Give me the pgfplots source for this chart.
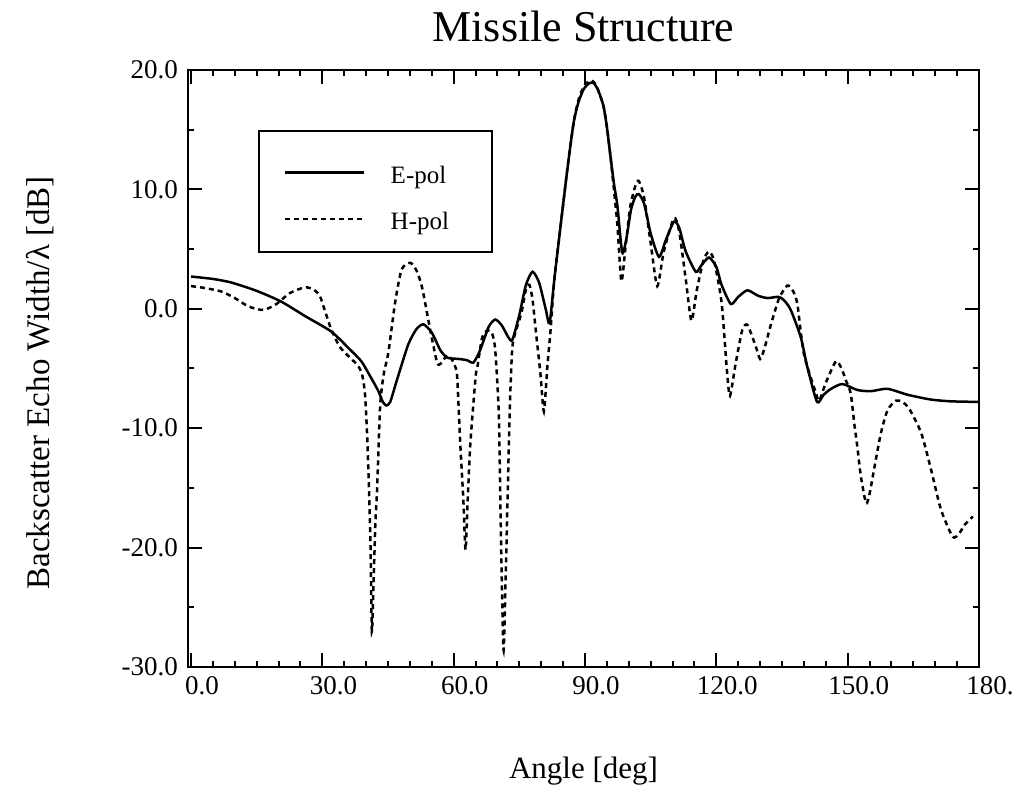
\documentclass[border=0pt]{standalone}
\usepackage{pgfplots}
\pgfplotsset{compat=1.18}
\usepackage{fontspec}
\setmainfont{Liberation Serif}
\begin{document}
\begin{tikzpicture}
\useasboundingbox (-188pt,-124pt) rectangle (836pt,667pt);
\begin{axis}[
  at={(0pt,0pt)}, anchor=south west,
  scale only axis, width=791pt, height=597pt,
  xmin=-0.7, xmax=180, ymin=-30, ymax=20,
  axis line style={line width=2.5pt},
  tick align=inside, tick pos=both,
  xtick={0,30,60,90,120,150,180},
  xticklabels={0.0,30.0,60.0,90.0,120.0,150.0,180.},
  ytick={-30,-20,-10,0,10,20},
  yticklabels={-30.0,-20.0,-10.0,0.0,10.0,20.0},
  minor x tick num=5, minor y tick num=1,
  major tick length=14pt, minor tick length=6pt,
  every tick/.style={black, line width=2pt},
  xticklabel style={font=\fontsize{27}{30}\selectfont, anchor=north, inner sep=0pt, yshift=-9pt, xshift=11pt},
  yticklabel style={font=\fontsize{27}{30}\selectfont, anchor=east, inner sep=0pt, xshift=-10pt},
  title={Missile Structure},
  title style={font=\fontsize{44}{48}\selectfont, at={(axis description cs:0.5,1)}, anchor=base, yshift=22pt},
  xlabel={Angle [deg]},
  xlabel style={font=\fontsize{31}{34}\selectfont, at={(axis description cs:0.5,0)}, anchor=base, yshift=-111pt},
  ylabel={Backscatter Echo Width/λ [dB]},
  ylabel style={font=\fontsize{33}{36}\selectfont, at={(axis description cs:-0.1745,0.476)}, anchor=base},
  legend cell align=left,
  legend image code/.code={\draw[#1] (0pt,2.5pt) -- (79pt,2.5pt);},
  legend style={at={(axis description cs:0.1214,0.840)}, anchor=north west,
    draw=none, fill=none, inner xsep=0pt, inner ysep=0pt,
    row sep=27.5pt, column sep=25pt,
    nodes={inner sep=0pt},
    font=\fontsize{25}{27}\selectfont},
]
\addplot[black, line width=2.5pt, smooth, tension=0.4] coordinates {
(0,2.7)(5,2.5)(9.2,2.2)(15,1.5)(20.6,0.6)(26,-0.6)(32,-1.9)(36,-3.3)(38.9,-4.4)(41,-5.7)(42.8,-6.9)(43.8,-7.8)(44.6,-8.1)(45.5,-7.8)(47,-6.0)(49.6,-3.0)(51.5,-1.7)(53.1,-1.3)(55,-2.0)(57,-3.5)(58.6,-4.1)(61.1,-4.2)(63,-4.3)(64.5,-4.5)(66,-3.5)(68,-1.5)(69.5,-0.9)(71,-1.4)(72.5,-2.4)(73.4,-2.6)(75,-0.5)(76.5,2.0)(78,3.1)(79.5,2.2)(81,0)(81.9,-1.2)(83,2.5)(84.4,6.9)(86,11.8)(87.4,15.6)(88.5,17.3)(89.7,18.4)(91,18.9)(92,18.9)(93,18.3)(94.2,17.0)(95,15.2)(95.8,12.8)(96.6,10.5)(97.4,8.6)(98.5,4.7)(99.5,6.0)(100.5,8.3)(101.5,9.4)(102.3,9.6)(103.5,8.8)(105,6.3)(106.9,4.35)(108.5,5.8)(110.3,7.3)(111.5,6.8)(113,4.8)(115.3,3.1)(116.5,3.6)(118.3,4.3)(120,3.5)(121.2,2.0)(123.3,0.4)(125,1.0)(127.1,1.55)(129.5,1.1)(131.7,0.9)(134.2,1.0)(135.5,0.7)(137,-0.1)(139.3,-2.4)(140.8,-4.9)(143,-7.8)(144.5,-7.2)(146.2,-6.7)(148.8,-6.3)(152.2,-6.8)(155.3,-6.9)(159.1,-6.7)(163.7,-7.2)(169,-7.6)(173.6,-7.75)(180,-7.8)
};
\addlegendentry{E-pol}
\addplot[black, line width=2.5pt, dash pattern=on 5pt off 4pt, smooth, tension=0.4] coordinates {
(0,1.9)(3,1.75)(6.9,1.45)(10,0.9)(13.1,0.2)(16.5,-0.1)(19.5,0.4)(22.5,1.3)(26,1.8)(28,1.6)(29.4,1.1)(30.7,-0.3)(32,-1.7)(34,-3.2)(36.6,-4.2)(38,-4.7)(39,-5.4)(39.7,-7.0)(40.2,-10.4)(40.6,-14.6)(41.0,-20)(41.3,-27.0)(41.7,-22.9)(42.1,-18)(42.5,-15.1)(43.2,-8.1)(44,-5.5)(45.1,-3.6)(46.6,0.5)(48.1,3.3)(50.1,3.85)(51.5,3.2)(52.8,1.75)(54.7,-1.9)(56.2,-4.5)(57,-4.6)(58.5,-3.9)(59.5,-4.2)(60.4,-4.9)(60.8,-5.75)(61.5,-11.3)(62.2,-16)(62.7,-20.2)(63.2,-16)(63.8,-11.3)(65.0,-5.7)(65.4,-4.9)(66.5,-2.4)(67.7,-1.8)(68.8,-2.1)(69.5,-3.5)(70.3,-8.8)(70.7,-17.2)(71.0,-23)(71.4,-28.6)(71.9,-22)(72.3,-16)(72.8,-8.5)(73.4,-3.2)(74.5,-1.5)(75.5,-0.3)(76.5,1.6)(77.3,2.0)(78,0.8)(78.8,-2)(79.8,-5.4)(80.6,-8.6)(81.4,-4.8)(82.1,-1.9)(83,2.5)(84.4,6.9)(86,11.8)(87.4,15.6)(88.5,17.5)(89.7,18.6)(91,19.1)(92,19.0)(93,18.3)(94.2,17.0)(95,15.2)(95.8,12.8)(96.6,10)(97.4,7)(98.3,2.3)(99.2,5)(100.3,8.5)(101.5,10.3)(102.3,10.7)(103.5,9.3)(105,5.5)(106.5,1.9)(108,4.8)(110.3,7.6)(111.5,6.5)(113,2.5)(114.3,-1.0)(115.5,1.5)(117,4.0)(118.3,4.8)(119.5,4.0)(121.2,0.5)(122.4,-5.1)(123.1,-7.3)(124.4,-4.6)(125.9,-1.8)(127.1,-1.35)(129,-3.15)(130,-4.2)(131,-3.3)(132.4,-1.4)(134.3,0.85)(136.2,1.95)(137.5,1.5)(138.5,0.4)(140,-3.8)(142.7,-7.0)(143.5,-7.7)(145,-6.2)(147.3,-4.4)(148.6,-5.0)(149.6,-6.0)(150.7,-7.1)(151.5,-9.6)(152.2,-11.55)(153,-14.0)(154.2,-16.3)(155,-15.5)(156,-13.5)(157.6,-10.4)(159.1,-8.5)(161,-7.7)(162.5,-7.8)(164.1,-8.4)(166.8,-10.4)(169,-13.4)(171.3,-16.8)(174,-19.1)(175.5,-18.8)(176.7,-18.1)(178.6,-17.4)
};
\addlegendentry{H-pol}
\draw[line width=2.5pt] (axis description cs:0.0898,0.8978) rectangle (axis description cs:0.3843,0.6951);
\end{axis}
\end{tikzpicture}
\end{document}
